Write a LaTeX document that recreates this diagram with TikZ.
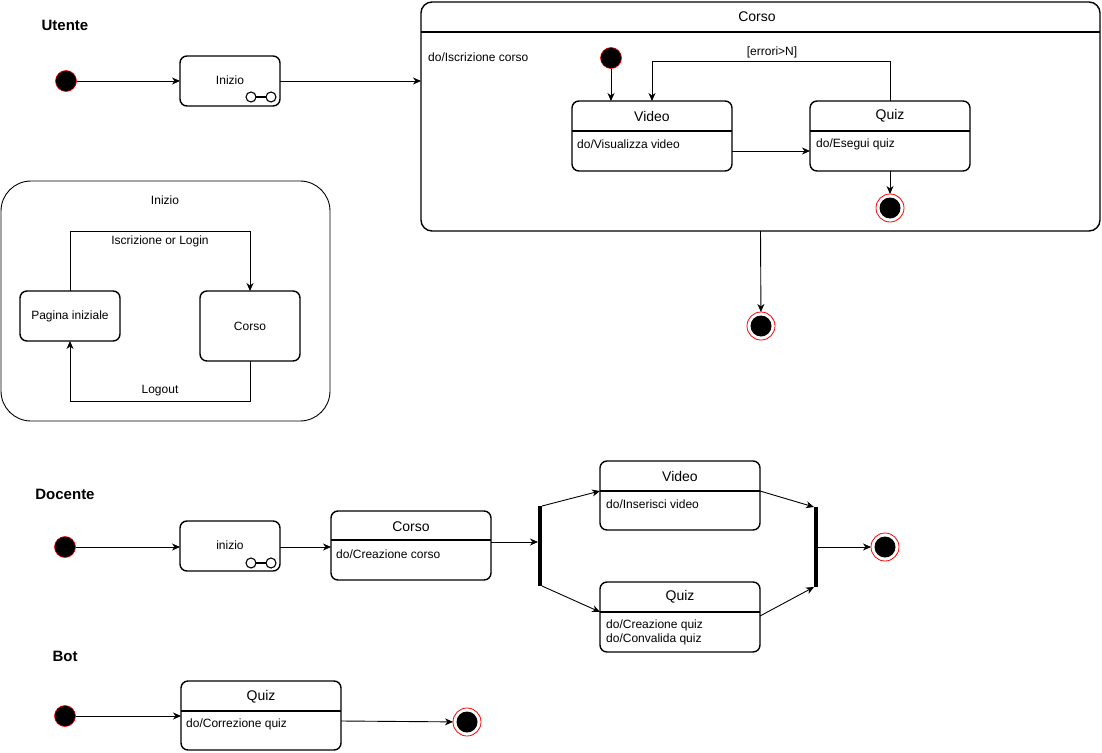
\documentclass[tikz,border=0pt]{standalone}
\usepackage{fontspec}
\setmainfont{Liberation Sans}
\usetikzlibrary{arrows.meta,calc}
\begin{document}
\begin{tikzpicture}[x=1pt,y=-1pt,
  statebox/.style={draw, rounded corners=7pt, line width=1.4pt, inner sep=0pt, outer sep=0pt},
  bigbox/.style={draw, rounded corners=11pt, line width=1.4pt, inner sep=0pt, outer sep=0pt},
  sepline/.style={line width=1.4pt},
  initst/.style={circle, draw=red, fill=black, minimum size=21pt, inner sep=0pt, outer sep=0pt, line width=0.6pt},
  finalst/.style={circle, draw=red, fill=white, minimum size=28pt, inner sep=0pt, outer sep=0pt, line width=0.8pt,
     path picture={\fill[black] (path picture bounding box.center) circle (10.5pt);}},
  bar/.style={fill=black, minimum width=4pt, minimum height=80pt, inner sep=0pt, outer sep=0pt},
  arr/.style={line width=0.9pt, -{Stealth[length=8pt,width=7pt,inset=2.5pt]}},
  lbl/.style={font=\fontsize{12pt}{14pt}\selectfont, inner sep=0pt},
  hdr/.style={font=\fontsize{14pt}{16pt}\selectfont, inner sep=0pt},
  ttl/.style={font=\fontsize{15pt}{17pt}\selectfont\bfseries, inner sep=0pt},
  act/.style={font=\fontsize{12pt}{14pt}\selectfont, inner sep=0pt, anchor=west, align=left},
  subicon/.style={circle, draw, fill=white, line width=1.1pt, minimum size=10pt, inner sep=0pt, outer sep=0pt}
]
\useasboundingbox (0,0) rectangle (1102,752);

% ---------------- Utente ----------------
\node[ttl] (tUtente) at (65,25) {Utente};
\node[initst] (uInit) at (66,81) {};
\node[statebox, minimum width=100pt, minimum height=50pt] (uInizio) at (230,81) {};
\node[lbl] (uInizioT) at (230,80) {Inizio};
\node[subicon] (uIc1) at (251,97) {};
\node[subicon] (uIc2) at (271,97) {};
\draw[line width=1.1pt] (uIc1) -- (uIc2);

% big Corso composite
\node[bigbox, minimum width=679pt, minimum height=229pt] (uCorso) at (760.5,116.5) {};
\draw[sepline] ($(uCorso.north west)+(0,30)$) -- ($(uCorso.north east)+(0,30)$);
\node[hdr] (uCorsoT) at (757,17) {Corso};
\node[act] (uCorsoA) at (428,57) {do/Iscrizione corso};

\node[initst] (cInit) at (611,58) {};
\node[statebox, minimum width=160pt, minimum height=70pt] (cVideo) at (652,136) {};
\draw[sepline] ($(cVideo.north west)+(0,30)$) -- ($(cVideo.north east)+(0,30)$);
\node[hdr] (cVideoT) at (652,116) {Video};
\node[act] (cVideoA) at (577,144) {do/Visualizza video};

\node[statebox, minimum width=160pt, minimum height=70pt] (cQuiz) at (890,136) {};
\draw[sepline] ($(cQuiz.north west)+(0,30)$) -- ($(cQuiz.north east)+(0,30)$);
\node[hdr] (cQuizT) at (890,116) {Quiz};
\node[act] (cQuizA) at (816,144) {do/Esegui quiz};

\node[finalst] (cFinal) at (890,208) {};
\node[finalst] (uFinal) at (761,326) {};

\draw[arr] (uInit) -- (uInizio);
\draw[arr] (uInizio) -- (uCorso.west |- uInizio);
\draw[arr] (cInit) -- (cInit |- cVideo.north);
\draw[arr] ([yshift=-15pt]cVideo.east) -- ([yshift=-15pt]cQuiz.west);
\draw[arr] (cQuiz.north) -- ++(0,-40) -| (cVideo.north);
\node[lbl] (cLoop) at (772,52) {[errori>N]};
\draw[arr] (cQuiz.south) -- (cFinal);
\draw[arr] (uCorso.south) -- (uFinal);

% Inizio composite
\node[draw, rounded corners=30pt, line width=0.9pt, minimum width=329pt, minimum height=240pt, inner sep=0pt] (iBox) at (165.5,301) {};
\node[lbl] (iBoxT) at (165,200) {Inizio};
\node[statebox, minimum width=100pt, minimum height=50pt] (iPag) at (70,316) {};
\node[lbl] (iPagT) at (70,316) {Pagina iniziale};
\node[statebox, minimum width=100pt, minimum height=70pt] (iCorso) at (250,326) {};
\node[lbl] (iCorsoT) at (250,326) {Corso};
\draw[arr] (iPag.north) -- ++(0,-60) -| (iCorso.north);
\node[lbl] (iL1) at (160,241) {Iscrizione or Login};
\draw[arr] (iCorso.south) -- ++(0,40) -| (iPag.south);
\node[lbl] (iL2) at (160,391) {Logout};

% ---------------- Docente ----------------
\node[ttl] (tDoc) at (65,494) {Docente};
\node[initst] (dInit) at (65,547) {};
\node[statebox, minimum width=100pt, minimum height=50pt] (dInizio) at (230,546) {};
\node[lbl] (dInizioT) at (230,545) {inizio};
\node[subicon] (dIc1) at (251,563) {};
\node[subicon] (dIc2) at (271,563) {};
\draw[line width=1.1pt] (dIc1) -- (dIc2);

\node[statebox, minimum width=160pt, minimum height=69pt] (dCorso) at (411,545.5) {};
\draw[sepline] ($(dCorso.north west)+(0,29)$) -- ($(dCorso.north east)+(0,29)$);
\node[hdr] (dCorsoT) at (411,527) {Corso};
\node[act] (dCorsoA) at (336,554) {do/Creazione corso};

\node[bar] (dFork) at (540,546) {};
\node[statebox, minimum width=160pt, minimum height=69pt] (dVideo) at (680,495.5) {};
\draw[sepline] ($(dVideo.north west)+(0,30)$) -- ($(dVideo.north east)+(0,30)$);
\node[hdr] (dVideoT) at (680,476) {Video};
\node[act] (dVideoA) at (606,504) {do/Inserisci video};

\node[statebox, minimum width=160pt, minimum height=70pt] (dQuiz) at (680,617) {};
\draw[sepline] ($(dQuiz.north west)+(0,30)$) -- ($(dQuiz.north east)+(0,30)$);
\node[hdr] (dQuizT) at (680,597) {Quiz};
\node[act] (dQuizA) at (606,632) {do/Creazione quiz\\do/Convalida quiz};

\node[bar] (dJoin) at (816,547) {};
\node[finalst] (dFinal) at (885,547) {};

\draw[arr] (dInit) -- (dInit -| dInizio.west);
\draw[arr] (dInit -| dInizio.east) -- (dInit -| dCorso.west);
\draw[arr] ([yshift=3.5pt]dCorso.east) -- (dFork.west |- 0,542);
\draw[arr] (dFork.north east) -- ([yshift=4.5pt]dVideo.west);
\draw[arr] (dFork.south east) -- ([yshift=5pt]dQuiz.west);
\draw[arr] ([yshift=4.5pt]dVideo.east) -- (dJoin.north west);
\draw[arr] ([yshift=1pt]dQuiz.east) -- (dJoin.south west);
\draw[arr] (dJoin.east) -- (dFinal);

% ---------------- Bot ----------------
\node[ttl] (tBot) at (65,656) {Bot};
\node[initst] (bInit) at (65,716) {};
\node[statebox, minimum width=160pt, minimum height=69pt] (bQuiz) at (261,715.5) {};
\draw[sepline] ($(bQuiz.north west)+(0,30)$) -- ($(bQuiz.north east)+(0,30)$);
\node[hdr] (bQuizT) at (261,697) {Quiz};
\node[act] (bQuizA) at (186,724) {do/Correzione quiz};
\node[finalst] (bFinal) at (467,722) {};
\draw[arr] (bInit) -- (bInit -| bQuiz.west);
\draw[arr] ([yshift=-5.5pt]bQuiz.east) -- (bFinal);
\end{tikzpicture}
\end{document}
